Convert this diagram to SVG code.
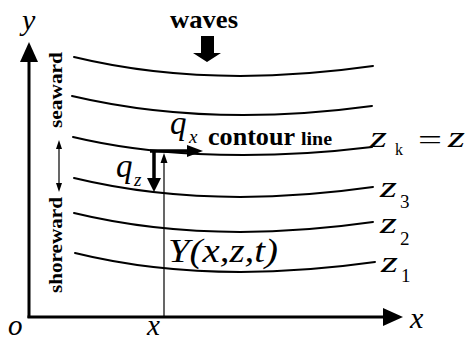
<svg xmlns="http://www.w3.org/2000/svg" width="466" height="342" viewBox="0 0 466 342">
<style>
.ax{stroke:#000;stroke-width:3;fill:none}
.ct{stroke:#000;stroke-width:2;fill:none;stroke-linecap:round}
.thin{stroke:#000;stroke-width:1.2;fill:none}
.thk{stroke:#000;stroke-width:3.5;fill:none}
.hd{fill:#000;stroke:none}
.m{font-family:"Liberation Serif","Times New Roman",serif;font-style:italic;fill:#000}
.r{font-family:"Liberation Serif","Times New Roman",serif;fill:#000}
.b{font-family:"Liberation Serif","Times New Roman",serif;font-weight:bold;fill:#000}
</style>
<rect width="466" height="342" fill="#fff"/>
<g id="axes">
<line class="ax" x1="29" y1="318" x2="29" y2="60"/>
<polygon class="hd" points="29,42 38,62 20,62"/>
<line class="ax" x1="27.5" y1="317" x2="386" y2="317"/>
<polygon class="hd" points="403,317 383,308 383,326"/>
<text class="m" x="22" y="30" font-size="30">y</text>
<text class="m" x="8" y="335" font-size="29">o</text>
<text class="m" x="147" y="335" font-size="29">x</text>
<text class="m" x="410" y="328" font-size="30">x</text>
</g>
<g id="contours">
<path class="ct" d="M74,57 C140,73 240,85 373,66"/>
<path class="ct" d="M72,96 C140,112 240,124 372,106"/>
<path class="ct" d="M73,137 C140,153 240,163 372,147"/>
<path class="ct" d="M74,178 C140,194 240,206 373,187"/>
<path class="ct" d="M74,213 C140,229 240,241 373,222"/>
<path class="ct" d="M75,253 C140,269 240,281 375,262"/>
</g>
<g id="waves">
<polygon class="hd" points="201,36 214,36 214,53 221,53 207,62 193,53 201,53"/>
<text class="b" x="170" y="28" font-size="25" textLength="68" lengthAdjust="spacingAndGlyphs">waves</text>
</g>
<g id="direction">
<line class="thin" x1="59" y1="146" x2="59" y2="186"/>
<polygon class="hd" points="59,140 56,149 62,149"/>
<polygon class="hd" points="59,192 56,183 62,183"/>
<text class="b" font-size="19" transform="translate(62,128) rotate(-90)" textLength="76" lengthAdjust="spacingAndGlyphs">seaward</text>
<text class="b" font-size="19" transform="translate(62,293) rotate(-90)" textLength="96" lengthAdjust="spacingAndGlyphs">shoreward</text>
</g>
<g id="connectors">
<line class="thin" x1="164" y1="316" x2="164" y2="160"/>
<polygon class="hd" points="164,153 160.5,163 167.5,163"/>
<line class="thk" x1="150" y1="151" x2="189" y2="151"/>
<polygon class="hd" points="203,151 187,145 187,157"/>
<line class="thk" x1="154" y1="150" x2="154" y2="180"/>
<polygon class="hd" points="154,192 147,178 161,178"/>
</g>
<g id="labels">
<text class="m" x="170" y="134" font-size="33">q</text>
<text class="m" x="189" y="143" font-size="19">x</text>
<text class="m" x="116" y="177" font-size="33">q</text>
<text class="m" x="134" y="186" font-size="19">z</text>
<text class="b" x="208" y="145" font-size="26" textLength="87" lengthAdjust="spacingAndGlyphs">contour</text>
<text class="b" x="301" y="145" font-size="19" textLength="31" lengthAdjust="spacingAndGlyphs">line</text>
<text class="m" x="168" y="262" font-size="34" textLength="110" lengthAdjust="spacingAndGlyphs">Y(x,z,t)</text>
</g>
<g id="levels">
<text class="m" x="370" y="147" font-size="30" textLength="17" lengthAdjust="spacingAndGlyphs">z</text>
<text class="r" x="395" y="155" font-size="16">k</text>
<text class="r" x="418" y="149" font-size="28" textLength="24" lengthAdjust="spacingAndGlyphs">=</text>
<text class="m" x="448" y="147" font-size="30" textLength="17" lengthAdjust="spacingAndGlyphs">z</text>
<text class="m" x="380" y="197" font-size="30" textLength="17" lengthAdjust="spacingAndGlyphs">z</text>
<text class="r" x="400" y="208" font-size="19">3</text>
<text class="m" x="380" y="233" font-size="30" textLength="17" lengthAdjust="spacingAndGlyphs">z</text>
<text class="r" x="400" y="245" font-size="19">2</text>
<text class="m" x="381" y="272" font-size="30" textLength="17" lengthAdjust="spacingAndGlyphs">z</text>
<text class="r" x="401" y="282" font-size="19">1</text>
</g>
</svg>
